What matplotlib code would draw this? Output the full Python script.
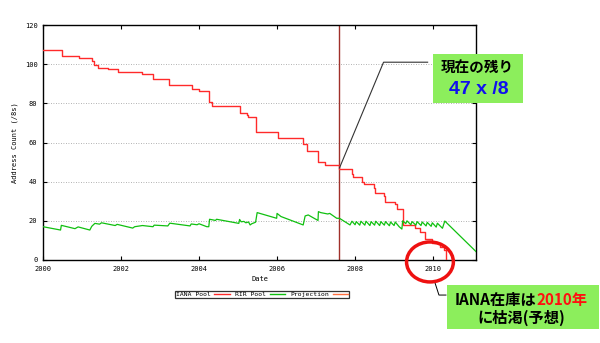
import matplotlib
matplotlib.use('Agg')
import matplotlib.pyplot as plt
from matplotlib.patches import Ellipse, Rectangle
from matplotlib.lines import Line2D

plt.rcParams['font.family'] = ['Noto Sans CJK JP', 'DejaVu Sans']

# IANA pool (step)
iana_year = [2000.0, 2000.48, 2000.93, 2001.25, 2001.30, 2001.40, 2001.67, 2001.93,
             2002.53, 2002.83, 2003.24, 2003.82, 2004.0, 2004.26, 2004.33, 2005.05,
             2005.22, 2005.25, 2005.46, 2006.02, 2006.67, 2006.76, 2007.04, 2007.23,
             2007.6, 2007.91, 2007.95, 2008.19, 2008.24, 2008.49, 2008.52, 2008.73,
             2008.76, 2009.03, 2009.07, 2009.22, 2009.54, 2009.67, 2009.8, 2009.96,
             2010.18, 2010.27, 2010.33]
iana_val = [107.3, 104.2, 103.3, 101.8, 99.6, 97.9, 97.4, 95.8,
            94.8, 92.3, 89.4, 87.3, 86.5, 80.5, 78.8, 75.3,
            74.1, 73.2, 65.2, 62.1, 59.2, 55.7, 50.2, 48.5,
            46.3, 43.9, 42.5, 40.0, 38.7, 36.6, 34.4, 32.7,
            29.8, 28.4, 25.9, 17.9, 16.2, 14.5, 10.6, 8.8,
            6.8, 5.1, 0.0]

# RIR pool
rir_year = [2000.0, 2000.45, 2000.47, 2000.82, 2000.9, 2001.2, 2001.25, 2001.33, 2001.45,
            2001.5, 2001.7, 2001.85, 2001.9, 2002.3, 2002.35, 2002.55, 2002.82, 2002.85,
            2003.2, 2003.25, 2003.77, 2003.8, 2003.95, 2004.0, 2004.2, 2004.25, 2004.27,
            2004.35, 2004.42, 2004.45, 2005.02, 2005.04, 2005.08, 2005.15, 2005.2, 2005.27,
            2005.31, 2005.35, 2005.45, 2005.49, 2005.99, 2006.0, 2006.1, 2006.67, 2006.72,
            2006.8, 2006.95, 2007.05, 2007.06, 2007.12, 2007.3, 2007.35, 2007.53, 2007.6,
            2007.87, 2007.92, 2008.0, 2008.03, 2008.12, 2008.15, 2008.25, 2008.28, 2008.38,
            2008.41, 2008.5, 2008.53, 2008.63, 2008.66, 2008.75, 2008.78, 2008.88, 2008.91,
            2009.0, 2009.03, 2009.13, 2009.2, 2009.22, 2009.3, 2009.33, 2009.43, 2009.46,
            2009.56, 2009.59, 2009.69, 2009.72, 2009.82, 2009.85, 2009.95, 2009.98, 2010.08,
            2010.11, 2010.24, 2010.3, 2011.1]
rir_val = [17.0, 15.3, 17.7, 16.0, 16.9, 15.3, 17.2, 18.7, 18.3,
           19.0, 18.2, 17.6, 18.2, 16.3, 17.0, 17.6, 17.0, 17.8,
           17.4, 18.8, 17.4, 18.4, 18.0, 18.5, 17.0, 17.0, 20.8,
           20.5, 20.2, 20.8, 18.7, 20.7, 19.5, 19.7, 19.0, 19.4,
           17.9, 18.5, 19.3, 24.2, 21.3, 23.8, 22.2, 17.9, 22.5,
           23.0, 21.3, 20.2, 24.7, 24.2, 23.5, 23.8, 21.3, 21.3,
           17.9, 19.8, 18.0, 19.6, 17.8, 19.8, 17.8, 19.8, 17.6,
           19.6, 17.8, 19.8, 17.6, 19.6, 17.8, 19.6, 17.5, 19.4,
           17.6, 19.4, 17.0, 15.8, 20.0, 18.6, 20.0, 18.0, 19.6,
           17.8, 19.6, 17.6, 19.4, 17.4, 19.2, 17.2, 19.0, 16.8,
           18.8, 16.2, 19.9, 4.3]

now_year = 2007.6
callout_x = [2007.6, 2008.73, 2009.86]
callout_y = [47, 101, 101]

fig = plt.figure(figsize=(6, 3.43), dpi=100)
ax = fig.add_axes([43 / 600, 1 - 260 / 343, 433 / 600, 235 / 343])

ax.step(iana_year, iana_val, where='post', color='#ff2a2a', lw=1.0, zorder=3)
ax.plot(rir_year, rir_val, color='#10c010', lw=0.9, zorder=3)
ax.axvline(now_year, color='#a0302a', lw=1.0, zorder=2)
ax.plot(callout_x, callout_y, color='#333333', lw=0.8, zorder=4)

ax.set_xlim(2000, 2011.1)
ax.set_ylim(0, 120)
ax.set_xticks(range(2000, 2011, 2))
ax.set_yticks(range(0, 121, 20))
ax.tick_params(direction='in', top=True, right=True, length=3, width=0.8,
               labelsize=5, pad=4)
for lab in ax.get_xticklabels() + ax.get_yticklabels():
    lab.set_family('DejaVu Sans Mono')
ax.yaxis.grid(True, linestyle=(0, (1, 2)), color='#999999', lw=0.6)
for s in ax.spines.values():
    s.set_linewidth(1.0)
ax.set_xlabel('Date', fontsize=5, family='DejaVu Sans Mono', labelpad=3)
ax.set_ylabel('Address Count (/8s)', fontsize=5, family='DejaVu Sans Mono', labelpad=5)

# red circle around the 2010 exhaustion point
ax.add_patch(Ellipse((2009.92, -1.0), 1.2, 20.4, fill=False, ec='#ee1111', lw=2.5,
                     clip_on=False, zorder=5))
ax.plot([2010.04, 2010.15, 2010.33], [-11.1, -17.9, -17.9], color='black', lw=0.7,
        clip_on=False)

handles = [Line2D([], [], color='#ff2a2a', lw=1.0),
           Line2D([], [], color='#10c010', lw=1.0),
           Line2D([], [], color='#ff7040', lw=1.0)]
leg = ax.legend(handles, ['IANA Pool', 'RIR Pool', 'Projection'], ncol=3,
                markerfirst=False, loc='center', bbox_to_anchor=(261.7 / 600, 1 - 294.2 / 343),
                bbox_transform=fig.transFigure, fontsize=4.6, frameon=True, fancybox=False,
                edgecolor='black', borderpad=0.15, handlelength=2.4, handletextpad=0.6,
                columnspacing=0.8, borderaxespad=0)
leg.get_frame().set_linewidth(0.9)
for t in leg.get_texts():
    t.set_family('DejaVu Sans Mono')

# callout boxes
fig.add_artist(Rectangle((432.7 / 600, 1 - 103.3 / 343), 90 / 600, 49.3 / 343,
                         transform=fig.transFigure, fc='#8cee5c', ec='none', zorder=5))
fig.text(477.7 / 600, 1 - 68.3 / 343, '現在の残り', ha='center', va='center',
         fontsize=10.5, fontweight='bold', color='black', zorder=6)
fig.text(479 / 600, 1 - 89.3 / 343, '47 x /8', ha='center', va='center',
         fontsize=14, fontweight='bold', color='#1010ee', family='Liberation Sans', zorder=6)

fig.add_artist(Rectangle((446.7 / 600, 1 - 329.3 / 343), 152.3 / 600, 44.3 / 343,
                         transform=fig.transFigure, fc='#8cee5c', ec='none', zorder=5))
fig.text(536.7 / 600, 1 - 300 / 343, 'IANA在庫は', ha='right', va='center',
         fontsize=11, fontweight='bold', color='black', zorder=6)
fig.text(536.7 / 600, 1 - 300 / 343, '2010年', ha='left', va='center',
         fontsize=11, fontweight='bold', color='#ff1010', zorder=6)
fig.text(521 / 600, 1 - 318.3 / 343, 'に枯渇(予想)', ha='center', va='center',
         fontsize=11, fontweight='bold', color='black', zorder=6)

fig.savefig('out.png', dpi=100)
